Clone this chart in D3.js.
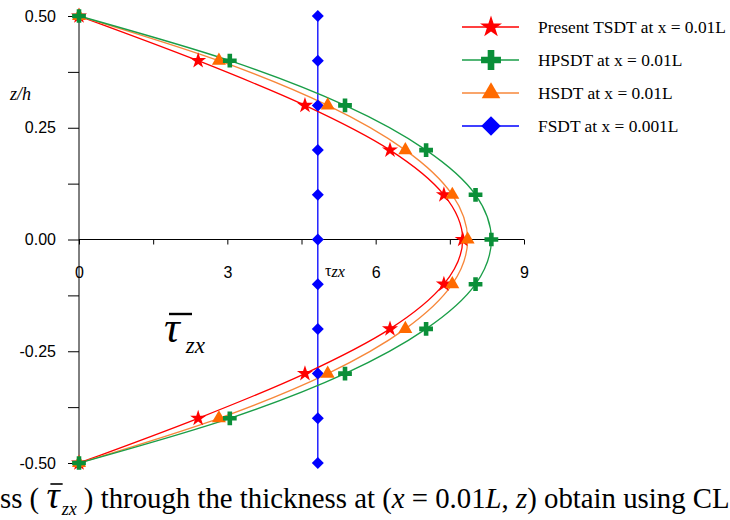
<!DOCTYPE html>
<html>
<head>
<meta charset="utf-8">
<script src="https://cdn.jsdelivr.net/npm/d3@7"></script>
<style>
  body { margin: 0; background: #fff; }
  svg { display: block; }
</style>
</head>
<body>
<svg width="730" height="520"></svg>
<script>
// z/h levels where each theory was evaluated
let zLevels = [0.5, 0.4, 0.3, 0.2, 0.1, 0, -0.1, -0.2, -0.3, -0.4, -0.5];

// shear stress values
let tsdtValues = [0, 2.41, 4.57, 6.29, 7.38, 7.76, 7.38, 6.29, 4.57, 2.41, 0];
let hpsdtValues = [0, 3.05, 5.38, 7.02, 8.02, 8.34, 8.02, 7.02, 5.38, 3.05, 0];
let hsdtValues = [0, 2.83, 5.03, 6.60, 7.55, 7.86, 7.55, 6.60, 5.03, 2.83, 0];
let fsdtValues = [4.83, 4.83, 4.83, 4.83, 4.83, 4.83, 4.83, 4.83, 4.83, 4.83, 4.83];

let seriesNames = [
  'Present TSDT at x = 0.01L',
  'HPSDT at x = 0.01L',
  'HSDT at x = 0.01L',
  'FSDT at x = 0.001L'
];

let xTicks = [0, 1.5, 3, 4.5, 6, 7.5, 9];
let xTickLabels = ['0', '', '3', '', '6', '', '9'];
let yTicks = [0.5, 0.375, 0.25, 0.125, 0, -0.125, -0.25, -0.375, -0.5];

let svg = d3.select('svg');

let xScale = d3.scaleLinear().domain([0, 9]).range([79, 524]);
let yScale = d3.scaleLinear().domain([-0.5, 0.5]).range([463, 16]);

let series = [
  { name: seriesNames[0], values: tsdtValues, line: '#ff0000', fill: '#ff0000', symbol: d3.symbolStar, size: 80, legendSize: 150, rot: 0 },
  { name: seriesNames[1], values: hpsdtValues, line: '#1a9e48', fill: '#0a8f38', symbol: d3.symbolCross, size: 105, legendSize: 220, rot: 0 },
  { name: seriesNames[2], values: hsdtValues, line: '#f7873a', fill: '#ff6a00', symbol: d3.symbolTriangle, size: 85, legendSize: 150, rot: 0 },
  { name: seriesNames[3], values: fsdtValues, line: '#0000ff', fill: '#0000ff', symbol: d3.symbolSquare, size: 72, legendSize: 190, rot: 45 }
];

let sans = 'Liberation Sans, Arial, sans-serif';
let serif = 'Liberation Serif, Times New Roman, serif';

// axes
let yAxis = d3.axisLeft(yScale)
  .tickValues(yTicks)
  .tickSize(11)
  .tickPadding(12)
  .tickFormat(d => (Math.abs(d * 4 - Math.round(d * 4)) < 1e-9 ? d3.format('.2f')(d).replace('−', '-') : ''));

let xAxis = d3.axisBottom(xScale)
  .tickValues(xTicks)
  .tickSize(5)
  .tickPadding(22)
  .tickFormat((d, i) => xTickLabels[i]);

svg.append('g')
  .attr('transform', 'translate(' + xScale(0) + ',0)')
  .call(yAxis)
  .call(g => g.select('.domain').attr('d', 'M0,' + yScale(0.5) + 'V' + yScale(-0.5)))
  .call(g => g.selectAll('text').attr('font-family', sans).attr('font-size', 16));

svg.append('g')
  .attr('transform', 'translate(0,' + yScale(0) + ')')
  .call(xAxis)
  .call(g => g.select('.domain').attr('d', 'M' + xScale(0) + ',0H' + xScale(9)))
  .call(g => g.selectAll('text').attr('font-family', sans).attr('font-size', 16));

// curves
let curveLine = d3.line()
  .x(d => xScale(d[0]))
  .y(d => yScale(d[1]))
  .curve(d3.curveMonotoneY);
let straightLine = d3.line()
  .x(d => xScale(d[0]))
  .y(d => yScale(d[1]));

let order = [3, 0, 2, 1];
order.forEach(k => {
  let s = series[k];
  let pts = s.values.map((v, i) => [v, zLevels[i]]);
  svg.append('path')
    .attr('d', k === 3 ? straightLine(pts) : curveLine(pts))
    .attr('fill', 'none')
    .attr('stroke', s.line)
    .attr('stroke-width', 1.3);
});

order.forEach(k => {
  let s = series[k];
  let pts = s.values.map((v, i) => [v, zLevels[i]]);
  svg.append('g')
    .selectAll('path')
    .data(pts)
    .enter()
    .append('path')
    .attr('d', d3.symbol().type(s.symbol).size(s.size))
    .attr('transform', d => 'translate(' + xScale(d[0]) + ',' + yScale(d[1]) + ') rotate(' + s.rot + ')')
    .attr('fill', s.fill);
});

// legend
let legendY = [27, 60, 93, 126];
let legend = svg.append('g');
series.forEach((s, i) => {
  let g = legend.append('g').attr('transform', 'translate(0,' + legendY[i] + ')');
  g.append('line')
    .attr('x1', 462).attr('x2', 519)
    .attr('stroke', s.line).attr('stroke-width', 1.3);
  g.append('path')
    .attr('d', d3.symbol().type(s.symbol).size(s.legendSize))
    .attr('transform', 'translate(491,0) rotate(' + s.rot + ')')
    .attr('fill', s.fill);
  g.append('text')
    .attr('x', 538).attr('y', 5.5)
    .attr('font-family', serif)
    .attr('font-size', 17.4)
    .text(s.name);
});

// axis titles
svg.append('text')
  .attr('x', 10).attr('y', 100)
  .attr('font-family', serif)
  .attr('font-style', 'italic')
  .attr('font-size', 18)
  .text('z/h');

let smallTau = svg.append('text')
  .attr('x', 325).attr('y', 276)
  .attr('font-family', serif)
  .attr('font-size', 16);
smallTau.append('tspan').text('τ');
smallTau.append('tspan').attr('font-style', 'italic').attr('dy', 1).text('zx');

let bigTau = svg.append('text')
  .attr('x', 164).attr('y', 342)
  .attr('font-family', serif)
  .attr('font-style', 'italic');
bigTau.append('tspan').attr('font-size', 44).text('τ');
bigTau.append('tspan').attr('font-size', 23).attr('dx', 6).attr('dy', 11).text('zx');
svg.append('line')
  .attr('x1', 169).attr('x2', 192)
  .attr('y1', 314).attr('y2', 314)
  .attr('stroke', '#000').attr('stroke-width', 2.4);

// caption (starts at the left edge like the source image)
let caption = svg.append('text')
  .attr('x', 0).attr('y', 508)
  .attr('font-family', serif)
  .attr('font-size', 28.8);
caption.append('tspan').text('ss ( ');
caption.append('tspan').attr('font-style', 'italic').attr('font-size', 37).text('τ');
caption.append('tspan').attr('font-style', 'italic').attr('font-size', 18).attr('dx', 2).attr('dy', 7).text('zx');
caption.append('tspan').attr('dy', -7).text(' ) through the thickness at (');
caption.append('tspan').attr('font-style', 'italic').text('x');
caption.append('tspan').text(' = 0.01');
caption.append('tspan').attr('font-style', 'italic').text('L');
caption.append('tspan').text(', ');
caption.append('tspan').attr('font-style', 'italic').text('z');
caption.append('tspan').text(') obtain using CL');

// overline on the caption tau, placed from the glyph extent
let tauBox = caption.node().getExtentOfChar(5);
svg.append('line')
  .attr('x1', tauBox.x + 4).attr('x2', tauBox.x + tauBox.width + 3)
  .attr('y1', 484).attr('y2', 484)
  .attr('stroke', '#000').attr('stroke-width', 1.6);
</script>
</body>
</html>
